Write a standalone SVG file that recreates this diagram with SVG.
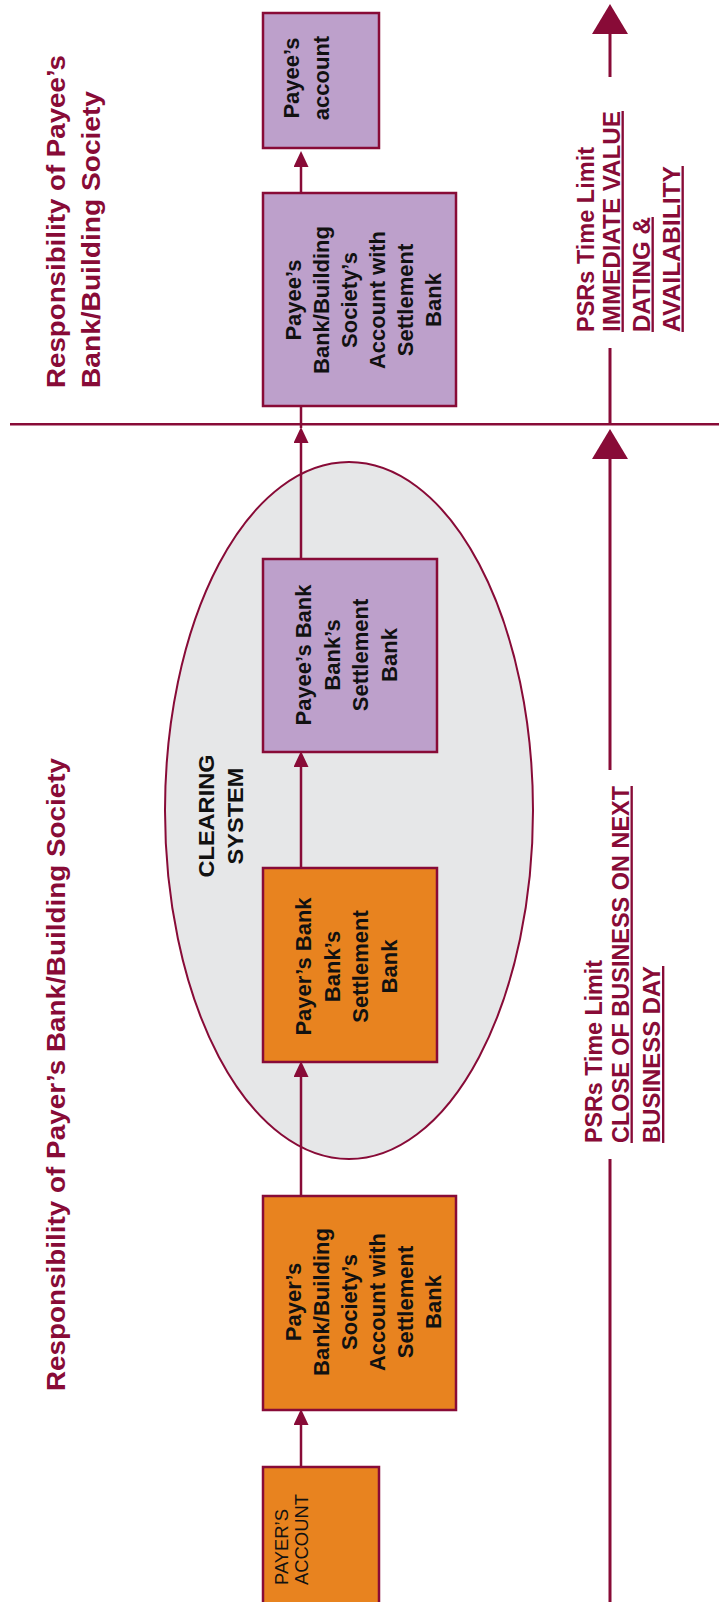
<svg xmlns="http://www.w3.org/2000/svg" width="719" height="1602" viewBox="0 0 719 1602">
<style>
.box{stroke:#880B37;stroke-width:2.5}
.purple{fill:#BDA0CB}
.orange{fill:#E8831F}
.lbl{font-family:"Liberation Sans",Arial,sans-serif;font-weight:bold;font-size:22px;fill:#111;text-anchor:middle}
.head{font-family:"Liberation Sans",Arial,sans-serif;font-weight:bold;font-size:26.5px;fill:#880B37}
.psr{font-family:"Liberation Sans",Arial,sans-serif;font-weight:bold;font-size:23.5px;fill:#880B37}
.ul{text-decoration:underline}
.conn{stroke:#880B37;stroke-width:2.5;fill:none}
.tl{stroke:#880B37;stroke-width:3;fill:none}
</style>
<defs>
<marker id="ah" markerUnits="userSpaceOnUse" markerWidth="16" markerHeight="15" viewBox="0 0 16 15" refX="0" refY="7.5" orient="auto">
<path d="M0,0L16,7.5L0,15z" fill="#880B37"/>
</marker>
<marker id="bh" markerUnits="userSpaceOnUse" markerWidth="30" markerHeight="36" viewBox="0 0 30 36" refX="0" refY="18" orient="auto">
<path d="M0,0L30,18L0,36z" fill="#880B37"/>
</marker>
</defs>
<rect width="719" height="1602" fill="#fff"/>

<g id="headings">
<text class="head" transform="translate(0,388) rotate(-90)"><tspan x="0" y="65" textLength="333" lengthAdjust="spacingAndGlyphs">Responsibility of Payee’s</tspan><tspan x="0" y="100" textLength="297" lengthAdjust="spacingAndGlyphs">Bank/Building Society</tspan></text>
<text class="head" transform="translate(0,1391) rotate(-90)"><tspan x="0" y="65" textLength="633" lengthAdjust="spacingAndGlyphs">Responsibility of Payer’s Bank/Building Society</tspan></text>
</g>

<g id="clearing-system">
<ellipse cx="349" cy="810.5" rx="184" ry="348.5" fill="#E6E7E8" stroke="#880B37" stroke-width="2"/>
<text class="lbl" style="font-size:22.5px" transform="translate(0,816) rotate(-90)"><tspan x="0" y="213.5" textLength="123" lengthAdjust="spacingAndGlyphs">CLEARING</tspan><tspan x="0" y="242.5" textLength="97" lengthAdjust="spacingAndGlyphs">SYSTEM</tspan></text>
</g>

<g id="divider">
<path d="M10,424.3H719" class="conn"/>
</g>

<g id="timeline">
<path d="M610,77V34" class="tl" marker-end="url(#bh)"/>
<path d="M610,348V424" class="tl"/>
<path d="M610,770V459" class="tl" marker-end="url(#bh)"/>
<path d="M610,1159V1602" class="tl"/>
<text class="psr" transform="translate(0,332) rotate(-90)"><tspan x="0" y="594" textLength="185" lengthAdjust="spacingAndGlyphs">PSRs Time Limit</tspan><tspan class="ul" x="0" y="619.5" textLength="221" lengthAdjust="spacingAndGlyphs">IMMEDIATE VALUE</tspan><tspan class="ul" x="0" y="649.5" textLength="115" lengthAdjust="spacingAndGlyphs">DATING &amp;</tspan><tspan class="ul" x="0" y="679.5" textLength="166" lengthAdjust="spacingAndGlyphs">AVAILABILITY</tspan></text>
<text class="psr" transform="translate(0,1143) rotate(-90)"><tspan x="0" y="601.5" textLength="183" lengthAdjust="spacingAndGlyphs">PSRs Time Limit</tspan><tspan class="ul" x="0" y="628.5" textLength="357" lengthAdjust="spacingAndGlyphs">CLOSE OF BUSINESS ON NEXT</tspan><tspan class="ul" x="0" y="660" textLength="177" lengthAdjust="spacingAndGlyphs">BUSINESS DAY</tspan></text>
</g>

<g id="connectors">
<path d="M301,193V167" class="conn" marker-end="url(#ah)"/>
<path d="M301,428V406" class="conn"/>
<path d="M301,559V443" class="conn" marker-end="url(#ah)"/>
<path d="M301,868V767" class="conn" marker-end="url(#ah)"/>
<path d="M301,1196V1077" class="conn" marker-end="url(#ah)"/>
<path d="M301,1467V1425" class="conn" marker-end="url(#ah)"/>
</g>

<g id="payee-account">
<rect class="box purple" x="263" y="13" width="116" height="135"/>
<text class="lbl" transform="translate(0,78) rotate(-90)"><tspan x="0" y="299">Payee’s</tspan><tspan x="0" y="329">account</tspan></text>
</g>

<g id="payee-bbs-account">
<rect class="box purple" x="263" y="193" width="193" height="213"/>
<text class="lbl" transform="translate(0,300) rotate(-90)"><tspan x="0" y="301">Payee’s</tspan><tspan x="0" y="329">Bank/Building</tspan><tspan x="0" y="357">Society’s</tspan><tspan x="0" y="385">Account with</tspan><tspan x="0" y="413">Settlement</tspan><tspan x="0" y="441">Bank</tspan></text>
</g>

<g id="payee-settlement-bank">
<rect class="box purple" x="263" y="559" width="174" height="193"/>
<text class="lbl" transform="translate(0,655) rotate(-90)"><tspan x="0" y="311">Payee’s Bank</tspan><tspan x="0" y="339.5">Bank’s</tspan><tspan x="0" y="368">Settlement</tspan><tspan x="0" y="396.5">Bank</tspan></text>
</g>

<g id="payer-settlement-bank">
<rect class="box orange" x="263" y="868" width="174" height="194"/>
<text class="lbl" transform="translate(0,966.5) rotate(-90)"><tspan x="0" y="311">Payer’s Bank</tspan><tspan x="0" y="339.5">Bank’s</tspan><tspan x="0" y="368">Settlement</tspan><tspan x="0" y="396.5">Bank</tspan></text>
</g>

<g id="payer-bbs-account">
<rect class="box orange" x="263" y="1196" width="193" height="214"/>
<text class="lbl" transform="translate(0,1302) rotate(-90)"><tspan x="0" y="301">Payer’s</tspan><tspan x="0" y="329">Bank/Building</tspan><tspan x="0" y="357">Society’s</tspan><tspan x="0" y="385">Account with</tspan><tspan x="0" y="413">Settlement</tspan><tspan x="0" y="441">Bank</tspan></text>
</g>

<g id="payer-account">
<rect class="box orange" x="263" y="1467" width="116" height="145"/>
<text style="font-family:'Liberation Sans',Arial,sans-serif;font-size:18.4px;fill:#111" transform="translate(0,1585) rotate(-90)"><tspan x="0" y="288">PAYER’S</tspan><tspan x="0" y="307.5">ACCOUNT</tspan></text>
</g>
</svg>
